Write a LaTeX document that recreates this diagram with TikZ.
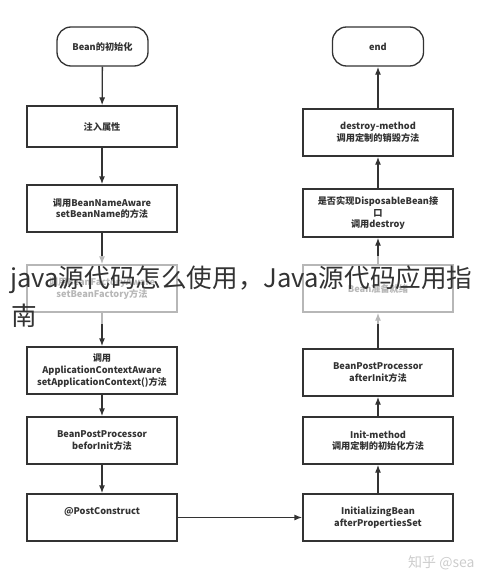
\documentclass[tikz,border=0pt]{standalone}
\usepackage{fontspec}
\setmainfont{Noto Sans CJK SC}
\usetikzlibrary{arrows.meta}

\definecolor{linegray}{HTML}{333333}

\tikzset{
  stepbox/.style={draw=linegray, line width=1.3pt, minimum width=150pt,
    minimum height=47pt, align=center, inner sep=1pt,
    font=\fontsize{9.2}{11.6}\selectfont\bfseries, text=linegray},
  termbox/.style={stepbox, rounded corners=14pt, minimum width=91pt,
    minimum height=39pt},
  flow/.style={draw=linegray, line width=1.3pt, -{Latex[length=8pt,width=6pt]}}
}

\begin{document}
\begin{tikzpicture}[x=1pt, y=-1pt]

\useasboundingbox (0,0) rectangle (490,578);

%% Creation side
\node [termbox] (start) at (102.5,46.5) {Bean的初始化};
\node [stepbox, minimum height=41pt] (inject) at (102,126.5) {注入属性};
\node [stepbox] (nameaware) at (102,208.5) {调用BeanNameAware\\setBeanName的方法};
\node [stepbox] (factoryaware) at (102,288.5) {调用BeanFactoryAware\\setBeanFactory方法};
\node [stepbox] (ctxaware) at (102,370.5) {调用\\ApplicationContextAware\\setApplicationContext()方法};
\node [stepbox] (postbefore) at (102,440.5) {BeanPostProcessor\\beforInit方法};
\node [stepbox] (postconstruct) at (102,517.5) {@PostConstruct\\[2pt]};

\draw [flow] (start) -- (inject);
\draw [flow] (inject) -- (nameaware);
\draw [flow] (nameaware) -- (factoryaware);
\draw [flow] (factoryaware) -- (ctxaware);
\draw [flow] (ctxaware) -- (postbefore);
\draw [flow] (postbefore) -- (postconstruct);

%% Destruction side
\node [termbox] (end) at (378,46.5) {end};
\node [stepbox] (destroymethod) at (378,132.5) {destroy-method\\调用定制的销毁方法};
\node [stepbox, minimum height=48pt] (disposable) at (378,213) {是否实现DisposableBean接\\口\\调用destroy};
\node [stepbox] (ready) at (378,288.5) {Bean准备就绪};
\node [stepbox] (postafter) at (378,372.5) {BeanPostProcessor\\afterInit方法};
\node [stepbox] (initmethod) at (378,440.5) {Init-method\\调用定制的初始化方法};
\node [stepbox] (initbean) at (378,517.5) {InitializingBean\\afterPropertiesSet};

\draw [flow] (postconstruct) -- (initbean);
\draw [flow] (initbean) -- (initmethod);
\draw [flow] (initmethod) -- (postafter);
\draw [flow] (postafter) -- (ready);
\draw [flow] (ready) -- (disposable);
\draw [flow] (disposable) -- (destroymethod);
\draw [flow] (destroymethod) -- (end);

%% Title laid over the chart
\fill [white, opacity=0.65] (0,256) rectangle (490,324);
\node [anchor=base west, inner sep=0pt, text=linegray, font=\fontsize{25.6}{30}\selectfont]
  (title) at (10,287) {java源代码怎么使用，Java源代码应用指};
\node [anchor=base west, inner sep=0pt, text=linegray, font=\fontsize{25.6}{30}\selectfont]
  (titlerest) at (11,325) {南};

%% Watermark
\node [anchor=base west, inner sep=0pt, text=black!20, font=\fontsize{14}{16}\selectfont]
  (mark) at (408,567) {知乎 @sea};

\end{tikzpicture}
\end{document}
